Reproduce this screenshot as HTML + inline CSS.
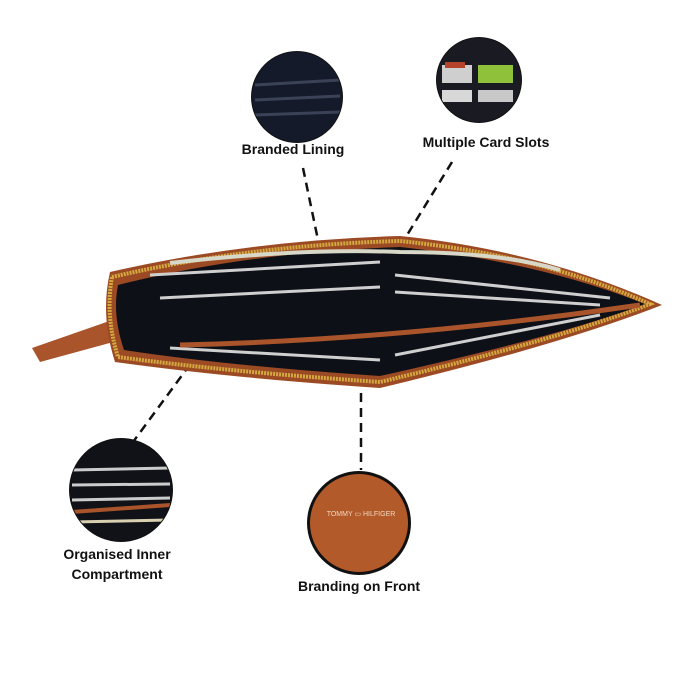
<!DOCTYPE html>
<html><head><style>
body{margin:0;background:#fff;width:700px;height:700px;overflow:hidden;font-family:"Liberation Sans",sans-serif}
.l{position:absolute;font-weight:bold;font-size:14px;color:#111;text-align:center;white-space:nowrap}
</style></head><body>
<svg width="700" height="700" style="position:absolute;left:0;top:0">
<defs>
<clipPath id="c1"><circle cx="297" cy="97" r="45"/></clipPath>
<clipPath id="c2"><circle cx="479" cy="80" r="42"/></clipPath>
<clipPath id="c3"><circle cx="121" cy="490" r="51"/></clipPath>
</defs>
<g stroke="#111" stroke-width="2.5" stroke-dasharray="9,6" fill="none">
<line x1="303" y1="168" x2="318" y2="240"/>
<line x1="452" y1="162" x2="404" y2="240"/>
<line x1="208" y1="340" x2="133" y2="442"/>
<line x1="361" y1="393" x2="361" y2="470"/>
</g>
<path d="M32,348 L118,318 L128,338 L40,362 Z" fill="#a9542a"/>
<path d="M110,272 Q250,240 400,236 Q540,250 662,305 Q560,345 380,388 Q230,378 115,362 Q100,315 110,272 Z" fill="#9c4a24"/>
<path d="M112,277 Q250,245 400,241 Q540,255 650,304 Q560,339 380,382 Q230,372 118,357 Q105,315 112,277 Z" fill="none" stroke="#d4aa40" stroke-width="4" stroke-dasharray="2,1"/>
<path d="M118,285 Q250,252 400,247 Q540,262 645,304 Q560,336 380,376 Q230,366 124,350 Q112,315 118,285 Z" fill="#0e1018"/>
<g stroke="#cfcfcf" stroke-width="3" fill="none">
<path d="M150,275 L380,262"/>
<path d="M160,298 L380,287"/>
<path d="M395,275 L610,298"/>
<path d="M395,292 L600,305"/>
<path d="M395,355 L600,315"/>
<path d="M170,348 L380,360"/>
</g>
<path d="M180,345 Q400,340 640,305" stroke="#a9542a" stroke-width="5" fill="none"/>
<path d="M170,263 Q300,248 400,252 Q500,252 560,270" stroke="#d8d8c8" stroke-width="4" fill="none"/>
<circle cx="297" cy="97" r="46" fill="#111"/>
<g clip-path="url(#c1)"><rect x="250" y="50" width="95" height="95" fill="#151a2a"/>
<path d="M255,85 L340,80 M255,100 L340,96 M255,115 L340,112" stroke="#3a4258" stroke-width="3"/></g>
<circle cx="479" cy="80" r="43" fill="#111"/>
<g clip-path="url(#c2)"><rect x="436" y="37" width="86" height="86" fill="#1a1a22"/>
<rect x="442" y="65" width="30" height="18" fill="#cfcfcf"/><rect x="478" y="65" width="35" height="18" fill="#8fc23a"/>
<rect x="442" y="90" width="30" height="12" fill="#d8d8d8"/><rect x="478" y="90" width="35" height="12" fill="#c8c8c8"/>
<rect x="445" y="62" width="20" height="6" fill="#b5442a"/></g>
<circle cx="121" cy="490" r="52" fill="#111"/>
<g clip-path="url(#c3)"><rect x="69" y="438" width="104" height="104" fill="#101218"/>
<path d="M72,470 L170,468 M72,485 L170,484 M72,500 L170,498" stroke="#ccc" stroke-width="3"/>
<path d="M72,512 L170,505" stroke="#a9542a" stroke-width="4"/>
<path d="M72,522 L170,520" stroke="#d8d0b0" stroke-width="3"/></g>
<circle cx="359" cy="523" r="52" fill="#111"/>
<circle cx="359" cy="523" r="49" fill="#b35a2b"/>
<text x="361" y="516" font-size="7" fill="#f0d8c0" text-anchor="middle" font-family="Liberation Sans">TOMMY ▭ HILFIGER</text>
</svg>
<div class="l" style="left:233px;top:141px;width:120px">Branded Lining</div>
<div class="l" style="left:415px;top:134px;width:142px">Multiple Card Slots</div>
<div class="l" style="left:47px;top:544px;width:140px;line-height:20px">Organised Inner<br>Compartment</div>
<div class="l" style="left:288px;top:578px;width:142px">Branding on Front</div>
</body></html>
